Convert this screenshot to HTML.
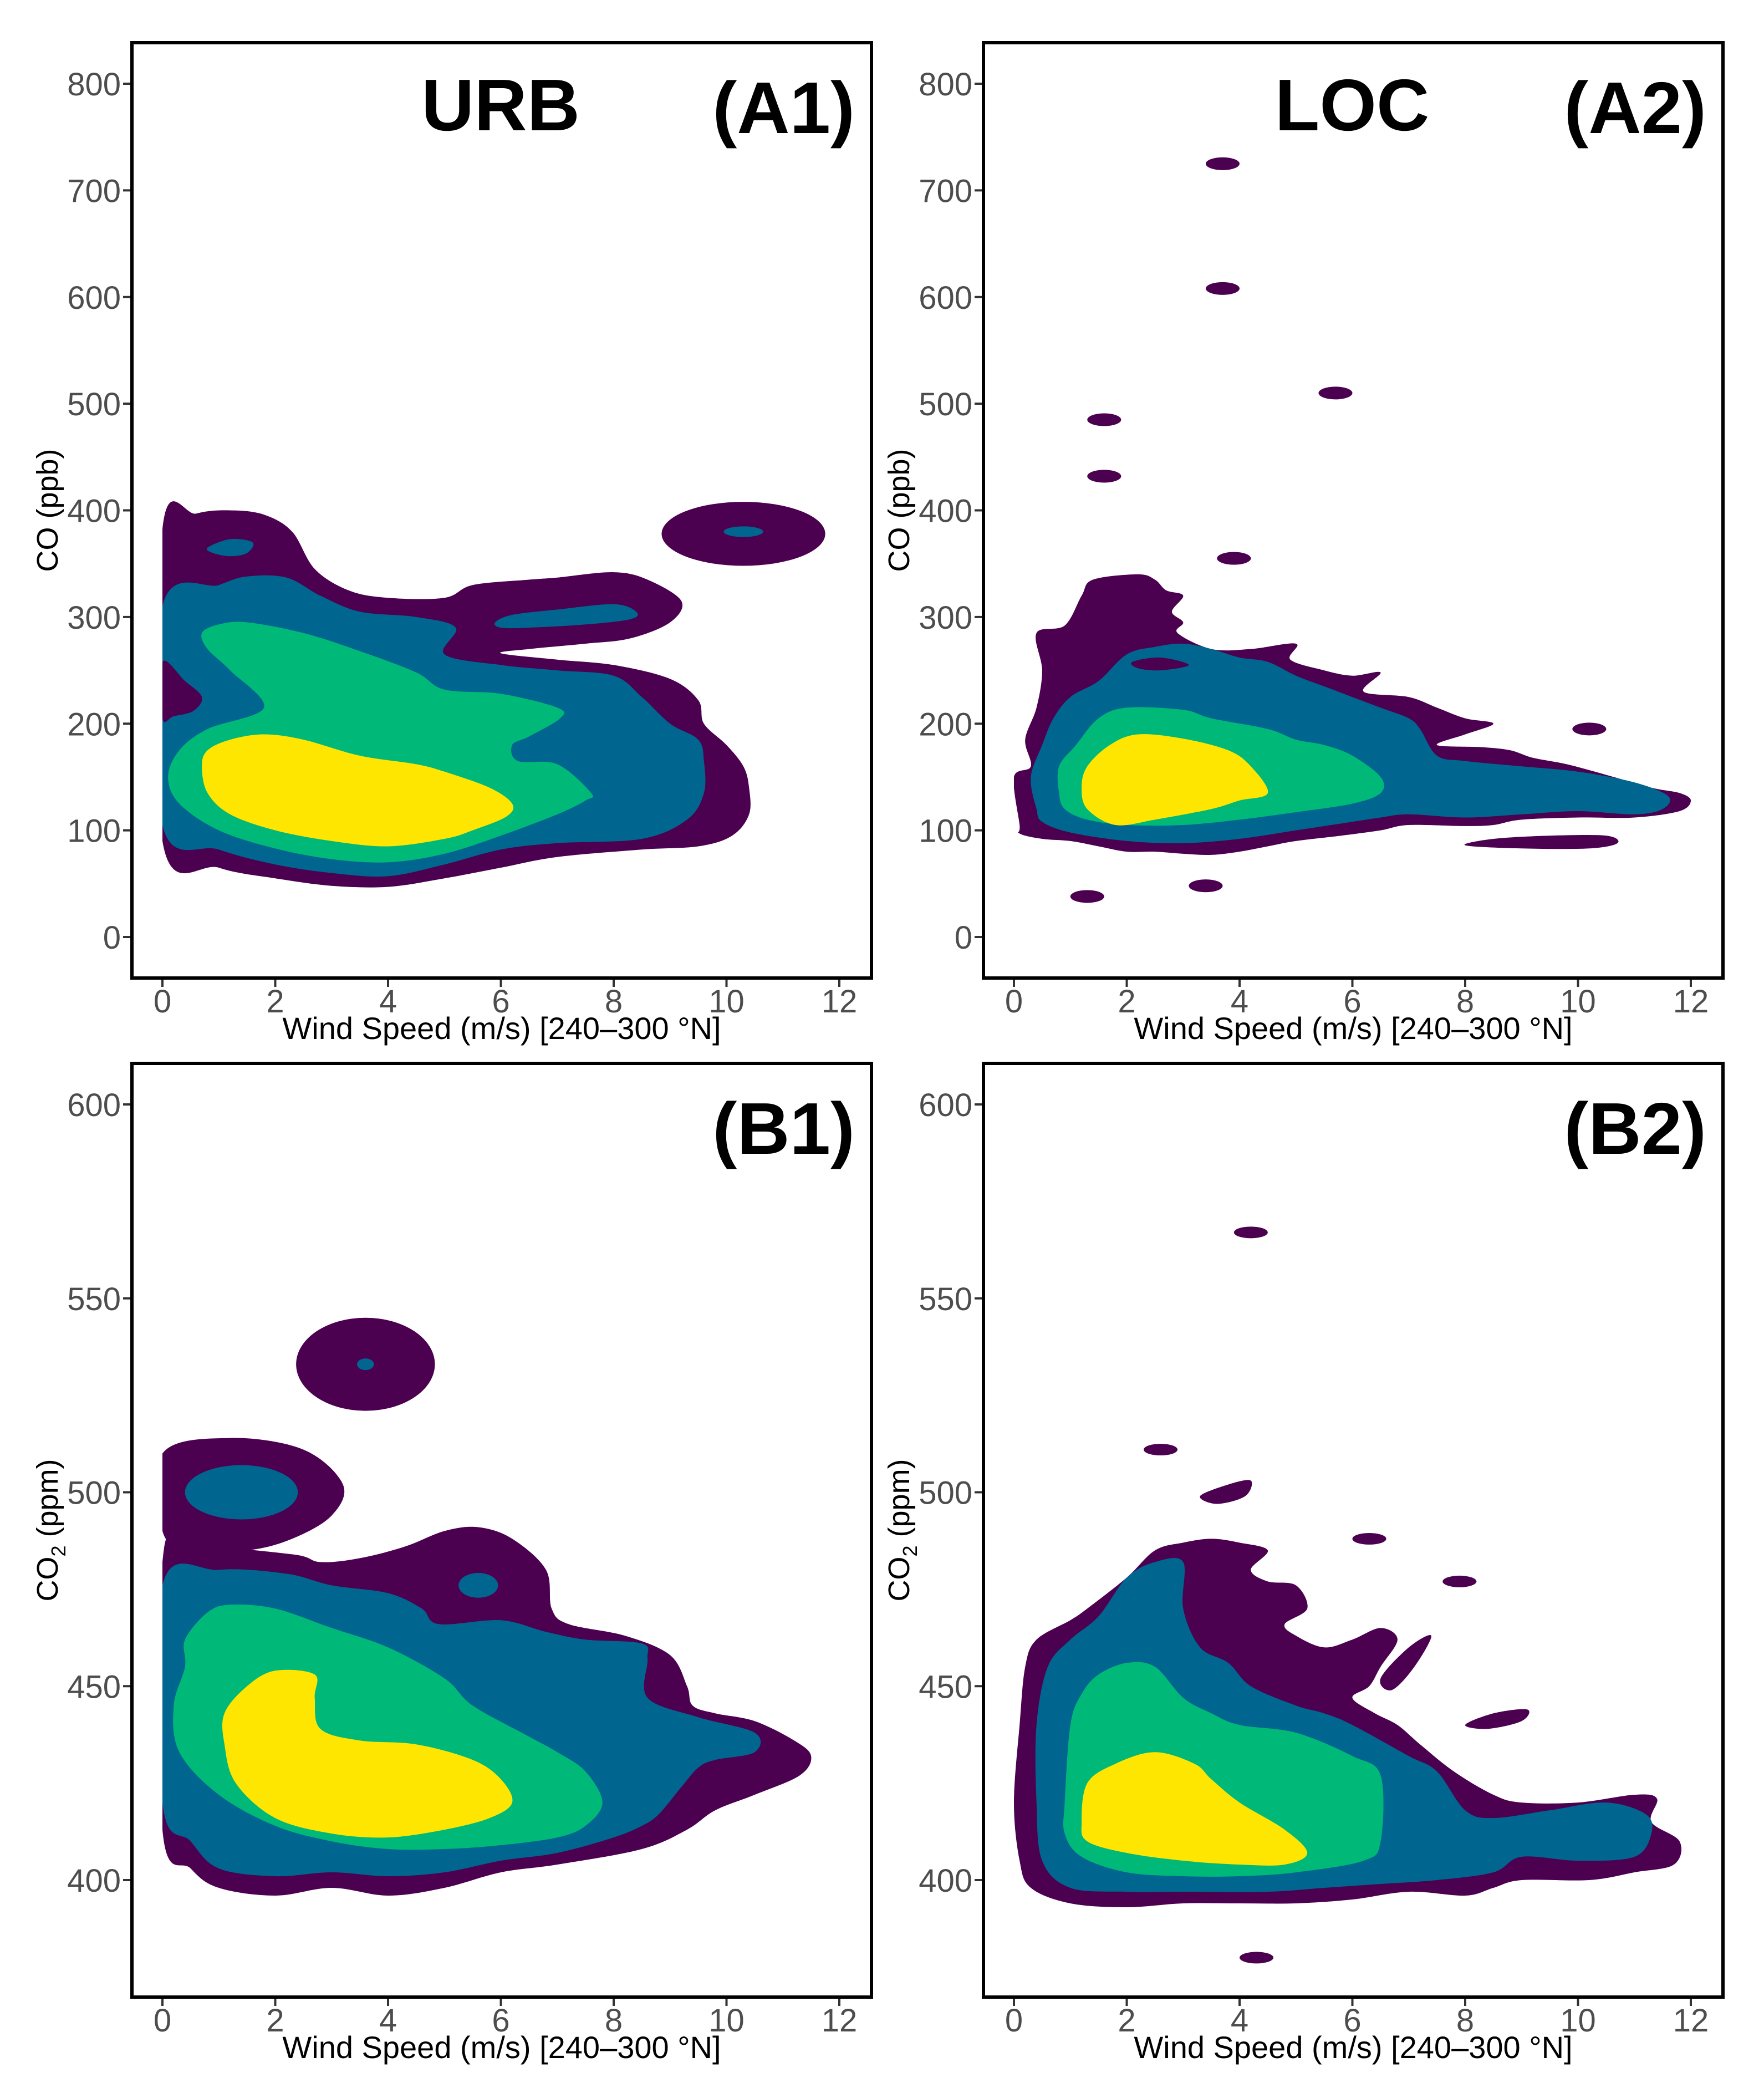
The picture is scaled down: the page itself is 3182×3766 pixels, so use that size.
<!DOCTYPE html>
<html><head><meta charset="utf-8"><title>Wind speed vs CO and CO2 density contours</title>
<style>html,body{margin:0;padding:0;background:#fff}svg{display:block}</style></head>
<body>
<svg id="fig" width="3182" height="3766" viewBox="0 0 3182 3766" xmlns="http://www.w3.org/2000/svg" font-family="Liberation Sans, Arial, sans-serif"></svg>
<script>
// ---- data (wind speed m/s, concentration) ----
const xTicks = [0,2,4,6,8,10,12];
const coTicks = [0,100,200,300,400,500,600,700,800];
const co2Ticks = [400,450,500,550,600];
const levelColors = ['#4b0050','#00668f','#00b979','#ffe600'];

const a1Purple = [[0,382],[0.6,397],[1.2,400],[1.8,396],[2.3,380],[2.7,345],[3.3,325],[4,318],[5,318],[5.5,330],[6.5,335],[7,337],[8,342],[8.6,335],[9.2,315],[9,295],[8.3,280],[7.5,275],[6.5,270],[6,266],[7,260],[8,255],[9,242],[9.5,222],[9.6,200],[10,180],[10.3,160],[10.4,140],[10.4,115],[10.1,95],[9.5,85],[8.5,82],[7,75],[6,65],[5,55],[4,47],[3,48],[2,55],[1,65],[0,90]];
const a1Blue = [[0,310],[1,330],[1.5,338],[2.2,337],[2.8,320],[3.5,305],[4.5,300],[5.2,290],[5,265],[6,255],[7,250],[8,245],[8.5,225],[9,200],[9.5,185],[9.6,165],[9.6,135],[9.3,110],[8.5,92],[7,88],[6,82],[5,68],[4,57],[3,60],[2,68],[1,82],[0,105]];
const a1Green = [[0.7,285],[1,293],[1.5,295],[2.5,285],[3.5,268],[4.5,248],[5,232],[6,228],[7,215],[7.05,205],[6.5,188],[6.2,180],[6.3,165],[7,162],[7.6,135],[7.5,128],[7,115],[6,95],[5,78],[4,70],[3,73],[2,83],[1,100],[0.3,125],[0.1,150],[0.3,175],[0.8,195],[1.8,215],[1.2,250],[0.8,270]];
const a1Yellow = [[0.7,160],[0.8,175],[1.2,185],[1.8,190],[2.5,185],[3.5,170],[4.5,162],[5,155],[5.8,140],[6.2,125],[6.1,113],[5.5,100],[5,92],[4,85],[3,90],[2,100],[1.2,115],[0.8,135]];
const a1PurpleBlob = [[0,258],[0.4,240],[0.7,225],[0.55,212],[0.2,207],[0,205]];
const a1BlueIslands = [[[0.8,365],[1.2,373],[1.6,370],[1.5,360],[1.2,357],[0.9,360]],[[5.9,295],[6.2,302],[7,307],[8,312],[8.4,305],[8.3,298],[7.5,293],[6.5,290],[6,290]]];
const a1Ring = [10.3,378,1.45,30];
const a1RingCore = [10.3,380,0.35,5];

const a2Purple = [[0.1,105],[0,150],[0.3,160],[0.2,185],[0.4,215],[0.5,250],[0.4,285],[0.9,292],[1.2,320],[1.4,335],[2.2,340],[2.5,335],[2.7,325],[3,320],[2.8,305],[3,295],[2.9,285],[3.5,270],[4.2,270],[5,275],[4.9,260],[5.5,250],[6,245],[6.5,248],[6.2,230],[7,225],[7.5,215],[8,205],[8.5,200],[8,190],[7.5,180],[8.3,178],[8.8,175],[9.2,168],[9.8,162],[10.5,152],[11.3,140],[11.8,135],[12,128],[11.8,118],[11,112],[10,112],[9,110],[8.5,105],[8,104],[7,105],[6.5,100],[5.8,95],[5,90],[4.5,85],[4,80],[3.5,77],[3,78],[2.5,80],[2,80],[1.5,85],[1,90],[0.5,92],[0.1,97]];
const a2Blue = [[0.4,120],[0.3,150],[0.5,180],[0.7,205],[1,225],[1.5,240],[2,265],[2.5,272],[3,275],[3.5,270],[4,262],[4.5,258],[5,245],[5.5,235],[6,225],[6.5,215],[7,205],[7.2,195],[7.5,170],[8,165],[9,160],[10,155],[11,145],[11.6,132],[11.5,120],[11,115],[10,118],[9,115],[8,112],[7,115],[6.5,112],[6,108],[5,100],[4,92],[3,88],[2,90],[1,98],[0.5,108]];
const a2Green = [[0.8,135],[0.8,160],[1.1,180],[1.5,205],[2,215],[3,213],[3.5,205],[4.5,195],[5,185],[5.5,180],[6,170],[6.5,150],[6.5,135],[6,125],[5,117],[4,110],[3,105],[2,105],[1.3,110],[0.9,120]];
const a2Yellow = [[1.2,140],[1.3,160],[1.7,180],[2.2,190],[3,186],[3.8,175],[4.2,160],[4.5,135],[4,128],[3.5,120],[2.5,110],[1.8,105],[1.3,120]];
const a2Extra = [[[8.5,92],[9.5,95],[10.5,95],[10.7,88],[10.2,83],[9,83],[8,86]],[[2.1,258],[2.6,262],[3.1,255],[2.6,250],[2.2,252]]];
const a2Dots = [[3.7,725],[3.7,608],[5.7,510],[1.6,485],[1.6,432],[3.9,355],[10.2,195],[1.3,38],[3.4,48],[1.7,300]];

const b1Purple = [[0,482],[0.5,486],[2.3,484],[2.8,482],[3.5,483],[4.3,486],[5,490],[5.6,491],[6.2,488],[6.8,480],[6.9,470],[7.2,466],[8.2,463],[9,458],[9.3,450],[9.4,445],[9.8,443],[10.5,441],[11.2,436],[11.5,432],[11.3,427],[10.5,422],[9.8,418],[9.3,413],[8.5,408],[7,404],[6,402],[5,398],[4,396],[3,398],[2,396],[1,398],[0.5,403],[0,413]];
const b1PurpleBlob = [[0,510],[1.2,514],[2.5,511],[3.2,502],[3,494],[2.3,488],[1.5,485],[0.5,485],[0,490]];
const b1Blue = [[0,476],[1,480],[2.2,479],[3,476],[4,474],[4.6,470],[4.9,466],[6,467],[6.8,464],[7.5,462],[8.5,461],[8.6,457],[8.6,447],[9.5,442],[10.5,438],[10.5,433],[9.8,431],[9.5,429],[9.2,424],[8.8,417],[8.5,414],[8,411],[7,407],[6,405],[5,402],[4,401],[3,402],[2,401],[1,403],[0.5,410],[0,420]];
const b1Green = [[0.4,462],[0.8,469],[1.2,471],[2,470],[3,465],[4,460],[5,452],[5.5,445],[6.5,437],[7,433],[7.5,428],[7.8,420],[7.5,414],[7,411],[6,409],[5,408],[4,408],[3,410],[2,414],[1,422],[0.3,433],[0.2,445],[0.4,455]];
const b1Yellow = [[1.1,443],[1.5,450],[2,454],[2.7,453],[2.7,447],[2.8,439],[3.5,436],[4.5,435],[5.5,431],[6,426],[6.2,420],[5.8,416],[5,413],[4,411],[3,412],[2,416],[1.3,425],[1.1,435]];
const b1Ellipses = [[1.4,500,1.0,7,1],[3.6,533,1.23,12,0],[3.6,533,0.15,1.5,1],[5.6,476,0.35,3.2,1]];

const b2Purple = [[0.1,405],[0,420],[0.1,440],[0.2,455],[0.4,462],[1,467],[1.3,470],[2,478],[2.5,485],[3,487],[3.5,488],[4,487],[4.5,485],[4.2,480],[4.5,477],[5,476],[5.2,470],[4.8,466],[5,463],[5.5,460],[6,462],[6.5,465],[6.8,462],[6.5,455],[6.3,450],[6,447],[6.4,443],[6.8,440],[7.2,435],[7.8,428],[8.5,422],[9,420],[10,420],[11,422],[11.4,421],[11.3,415],[11.8,410],[11.7,404],[11,402],[10.2,400],[9,400],[8.5,398],[8,396],[7,397],[6,395],[5,394],[4,394],[3,394],[2,393],[1,394],[0.3,398]];
const b2Blue = [[0.4,420],[0.4,440],[0.6,455],[1,462],[1.5,468],[2,478],[2.5,482],[3,482],[3,470],[3.3,460],[3.8,456],[4.2,450],[5,445],[5.5,443],[6,440],[7,432],[7.5,428],[8,418],[8.5,416],[9.5,418],[10.5,420],[11.2,417],[11.3,412],[11,406],[10,405],[9,406],[8.5,402],[7.5,400],[6.5,399],[5.5,398],[4.5,397],[3,397],[2,397],[1,398],[0.5,405]];
const b2Green = [[0.9,420],[1,440],[1.2,448],[1.5,453],[2,456],[2.5,455],[3,447],[3.5,443],[4,440],[5,438],[6,432],[6.5,427],[6.5,410],[6.2,405],[5,402],[4,401],[3,401],[2,402],[1.2,406],[0.9,412]];
const b2Yellow = [[1.2,415],[1.3,425],[1.8,430],[2.5,433],[3.2,430],[3.5,426],[4,420],[4.8,413],[5.2,407],[4.8,404],[4,404],[3,405],[2,407],[1.3,410]];
const b2Extra = [[[8,440],[8.5,443],[9.1,444],[9,441],[8.4,439]],[[6.5,452],[7,460],[7.4,463],[7.1,455],[6.7,449]],[[3.3,499],[3.8,502],[4.2,503],[4.1,499],[3.6,497]]];
const b2Dots = [[4.2,567],[2.6,511],[6.3,488],[7.9,477],[4.3,380]];

// ---- rendering ----
const NS='http://www.w3.org/2000/svg';
const svg=document.getElementById('fig');
function mk(tag,attrs,parent){const e=document.createElementNS(NS,tag);for(const k in attrs)e.setAttribute(k,attrs[k]);(parent||svg).appendChild(e);return e;}

function smoothPath(pts,sx,sy){
  const P=pts.map(p=>[sx(p[0]),sy(p[1])]);const n=P.length;let d='M'+P[0][0].toFixed(1)+','+P[0][1].toFixed(1);
  for(let i=0;i<n;i++){const p0=P[(i-1+n)%n],p1=P[i],p2=P[(i+1)%n],p3=P[(i+2)%n];
    const c1=[p1[0]+(p2[0]-p0[0])/6,p1[1]+(p2[1]-p0[1])/6],c2=[p2[0]-(p3[0]-p1[0])/6,p2[1]-(p3[1]-p1[1])/6];
    d+=' C'+c1[0].toFixed(1)+','+c1[1].toFixed(1)+' '+c2[0].toFixed(1)+','+c2[1].toFixed(1)+' '+p2[0].toFixed(1)+','+p2[1].toFixed(1);}
  return d+'Z';
}

function panel(cfg){
  const g=mk('g',{});
  
  
  const dx=cfg.dx, x0=293+dx, x12=1514+dx;
  const sx=v=>x0+(x12-x0)*v/12;
  const sy=v=>cfg.py0+(cfg.py1-cfg.py0)*(v-cfg.v0)/(cfg.v1-cfg.v0);
  const fl=238+dx, fr=1572+dx;
  const clipId='clip-'+cfg.name;
  const cp=mk('clipPath',{id:clipId},g);mk('rect',{x:sx(0),y:cfg.ft,width:fr-sx(0),height:cfg.fb-cfg.ft},cp);
  const cg=mk('g',{'clip-path':'url(#'+clipId+')'},g);
  
  
  cfg.layers.forEach(L=>{
    const p=mk('path',{d:smoothPath(L.pts,sx,sy),fill:levelColors[L.lvl]},cg);
    
    
  });
  (cfg.ellipses||[]).forEach(E=>{
    const e=mk('ellipse',{cx:sx(E[0]),cy:sy(E[1]),rx:Math.abs(sx(E[2])-sx(0)),ry:Math.abs(sy(E[1]+E[3])-sy(E[1])),fill:levelColors[E[4]]},cg);
    
    
  });
  (cfg.dots||[]).forEach(D=>{
    const e=mk('ellipse',{cx:sx(D[0]),cy:sy(D[1]),rx:Math.abs(sx(0.3)-sx(0)),ry:Math.abs(sy(D[1]+cfg.dotR)-sy(D[1])),fill:levelColors[0]},cg);
    
    
  });
  const fr_=mk('rect',{x:fl,y:cfg.ft,width:fr-fl,height:cfg.fb-cfg.ft,fill:'none',stroke:'#000','stroke-width':6},g);
  
  
  xTicks.forEach(t=>{
    mk('line',{x1:sx(t),x2:sx(t),y1:cfg.fb+3,y2:cfg.fb+16,stroke:'#333','stroke-width':4},g);
    const tx=mk('text',{x:sx(t),y:cfg.fb+62,'text-anchor':'middle','font-size':58,fill:'#4d4d4d'},g);
    tx.textContent=t;
    
    
  });
  cfg.yTicks.forEach(t=>{
    mk('line',{x1:fl-16,x2:fl-3,y1:sy(t),y2:sy(t),stroke:'#333','stroke-width':4},g);
    const tx=mk('text',{x:fl-20,y:sy(t)+21,'text-anchor':'end','font-size':58,fill:'#4d4d4d'},g);
    tx.textContent=t;
    
    
  });
  const xt=mk('text',{x:(fl+fr)/2,y:cfg.fb+110,'text-anchor':'middle','font-size':56,fill:'#000'},g);
  xt.textContent='Wind Speed (m/s) [240\u2013300 \u00b0N]';
  
  
  const yc=(cfg.ft+cfg.fb)/2;
  const yt=mk('text',{x:0,y:0,'text-anchor':'middle','font-size':54,fill:'#000',transform:'translate('+(104+dx)+','+yc+') rotate(-90)'},g);
  if(cfg.co2){yt.innerHTML='CO<tspan font-size="36" dy="14">2</tspan><tspan dy="-14"> (ppm)</tspan>';}
  else yt.textContent='CO (ppb)';
  
  
  const pl=mk('text',{x:fr-30,y:cfg.ft+163,'text-anchor':'end','font-size':132,'font-weight':'bold',fill:'#000'},g);
  pl.textContent=cfg.label;
  
  
  if(cfg.site){const st=mk('text',{x:903+dx,y:cfg.ft+158,'text-anchor':'middle','font-size':132,'font-weight':'bold',fill:'#000'},g);
    st.textContent=cfg.site;
    
    }
}

const A={ft:77,fb:1764,v0:0,v1:800,py0:1690,py1:151,yTicks:coTicks,dotR:6};
const B={ft:1918,fb:3602,v0:400,v1:600,py0:3391,py1:1992,yTicks:co2Ticks,co2:true,dotR:1.5};

panel(Object.assign({},A,{name:'panel-a1',dx:0,label:'(A1)',site:'URB',
  layers:[{pts:a1Purple,lvl:0},{pts:a1Blue,lvl:1},{pts:a1PurpleBlob,lvl:0},{pts:a1BlueIslands[0],lvl:1},{pts:a1BlueIslands[1],lvl:1},{pts:a1Green,lvl:2},{pts:a1Yellow,lvl:3}],
  ellipses:[[a1Ring[0],a1Ring[1],a1Ring[2],a1Ring[3],0],[a1RingCore[0],a1RingCore[1],a1RingCore[2],a1RingCore[3],1]]}));
panel(Object.assign({},A,{name:'panel-a2',dx:1536,label:'(A2)',site:'LOC',
  layers:[{pts:a2Purple,lvl:0},{pts:a2Extra[0],lvl:0},{pts:a2Blue,lvl:1},{pts:a2Extra[1],lvl:0},{pts:a2Green,lvl:2},{pts:a2Yellow,lvl:3}],
  dots:a2Dots}));
panel(Object.assign({},B,{name:'panel-b1',dx:0,label:'(B1)',
  layers:[{pts:b1Purple,lvl:0},{pts:b1PurpleBlob,lvl:0},{pts:b1Blue,lvl:1},{pts:b1Green,lvl:2},{pts:b1Yellow,lvl:3}],
  ellipses:b1Ellipses}));
panel(Object.assign({},B,{name:'panel-b2',dx:1536,label:'(B2)',
  layers:[{pts:b2Purple,lvl:0},{pts:b2Extra[0],lvl:0},{pts:b2Extra[1],lvl:0},{pts:b2Extra[2],lvl:0},{pts:b2Blue,lvl:1},{pts:b2Green,lvl:2},{pts:b2Yellow,lvl:3}],
  dots:b2Dots}));
</script>
</body></html>
